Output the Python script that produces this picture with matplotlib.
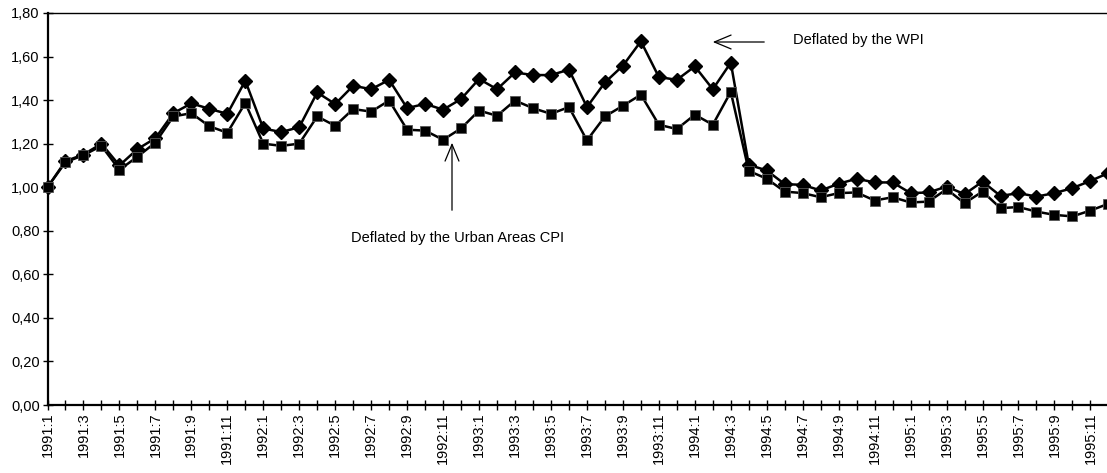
import matplotlib
matplotlib.use("Agg")
import matplotlib.pyplot as plt
import numpy as np

plt.rcParams['font.family'] = ['Liberation Sans', 'DejaVu Sans']

years = [1991, 1992, 1993, 1994, 1995]
months = [f"{y}:{m}" for y in years for m in range(1, 13)]

wpi = [1.00, 1.12, 1.15, 1.20, 1.10, 1.175, 1.225, 1.34, 1.385, 1.36, 1.337, 1.489,
       1.27, 1.253, 1.276, 1.435, 1.382, 1.466, 1.45, 1.493, 1.363, 1.383, 1.356, 1.405,
       1.497, 1.45, 1.527, 1.515, 1.515, 1.54, 1.368, 1.481, 1.558, 1.67, 1.506, 1.493,
       1.555, 1.45, 1.572, 1.103, 1.077, 1.014, 1.011, 0.985, 1.016, 1.039, 1.022, 1.022,
       0.973, 0.976, 1.003, 0.968, 1.026, 0.96, 0.973, 0.957, 0.973, 0.996, 1.029, 1.065]

cpi = [1.00, 1.115, 1.147, 1.19, 1.08, 1.14, 1.205, 1.325, 1.34, 1.28, 1.25, 1.387,
       1.20, 1.19, 1.20, 1.325, 1.282, 1.359, 1.347, 1.398, 1.264, 1.26, 1.218, 1.27,
       1.352, 1.328, 1.398, 1.363, 1.337, 1.368, 1.215, 1.325, 1.374, 1.425, 1.287, 1.267,
       1.333, 1.287, 1.438, 1.075, 1.039, 0.98, 0.973, 0.954, 0.973, 0.976, 0.939, 0.954,
       0.93, 0.934, 0.991, 0.927, 0.98, 0.904, 0.909, 0.888, 0.873, 0.866, 0.893, 0.924]

W, H = 1107, 473
fig = plt.figure(figsize=(W / 100, H / 100), dpi=100)
x0, x1 = 47.5, 1108.4
ytop, ybot = 13, 405
ax = fig.add_axes([x0 / W, 1 - ybot / H, (x1 - x0) / W, (ybot - ytop) / H])

x = np.arange(len(months))
ax.plot(x, wpi, color='black', lw=1.8, marker='D', ms=7, mfc='black', mec='black',
        clip_on=False, zorder=3)
ax.plot(x, cpi, color='black', lw=1.8, marker='s', ms=7.5, mfc='black', mec='#555555',
        mew=0.6, clip_on=False, zorder=3)

ax.set_xlim(0, len(months) - 1)
ax.set_ylim(0, 1.8)
yt = np.arange(0, 1.81, 0.2)
ax.set_yticks(yt)
ax.set_yticklabels([f"{v:.2f}".replace('.', ',') for v in yt], fontsize=10.5)
ax.set_xticks(x)
ax.set_xticklabels([m if i % 2 == 0 else '' for i, m in enumerate(months)],
                   rotation=90, fontsize=10.5)
ax.tick_params(axis='both', direction='inout', length=7, width=1.0, color='black')
ax.tick_params(axis='x', pad=2)
ax.tick_params(axis='y', pad=2)

for s in ['left', 'bottom']:
    ax.spines[s].set_linewidth(1.6)
ax.spines['top'].set_linewidth(1.0)
ax.spines['right'].set_visible(False)

def to_data(px, py):
    xd = (px - x0) / (x1 - x0) * (len(months) - 1)
    yd = (ybot - py) / (ybot - ytop) * 1.8
    return xd, yd

# WPI annotation
tx, ty = to_data(793, 40)
ax.text(tx, ty, "Deflated by the WPI", fontsize=10.5, ha='left', va='center')
a0 = to_data(767, 42)
a1 = to_data(710, 42)
ax.annotate('', xy=a1, xytext=a0,
            arrowprops=dict(arrowstyle='->,head_length=1.2,head_width=0.5', lw=0.9, color='black'))

# CPI annotation
tx, ty = to_data(458, 238)
ax.text(tx, ty, "Deflated by the Urban Areas CPI", fontsize=10.5, ha='center', va='center')
b0 = to_data(452, 213)
b1 = to_data(452, 140)
ax.annotate('', xy=b1, xytext=b0,
            arrowprops=dict(arrowstyle='->,head_length=1.2,head_width=0.5', lw=0.9, color='black'))

fig.savefig('out.png', dpi=100)
